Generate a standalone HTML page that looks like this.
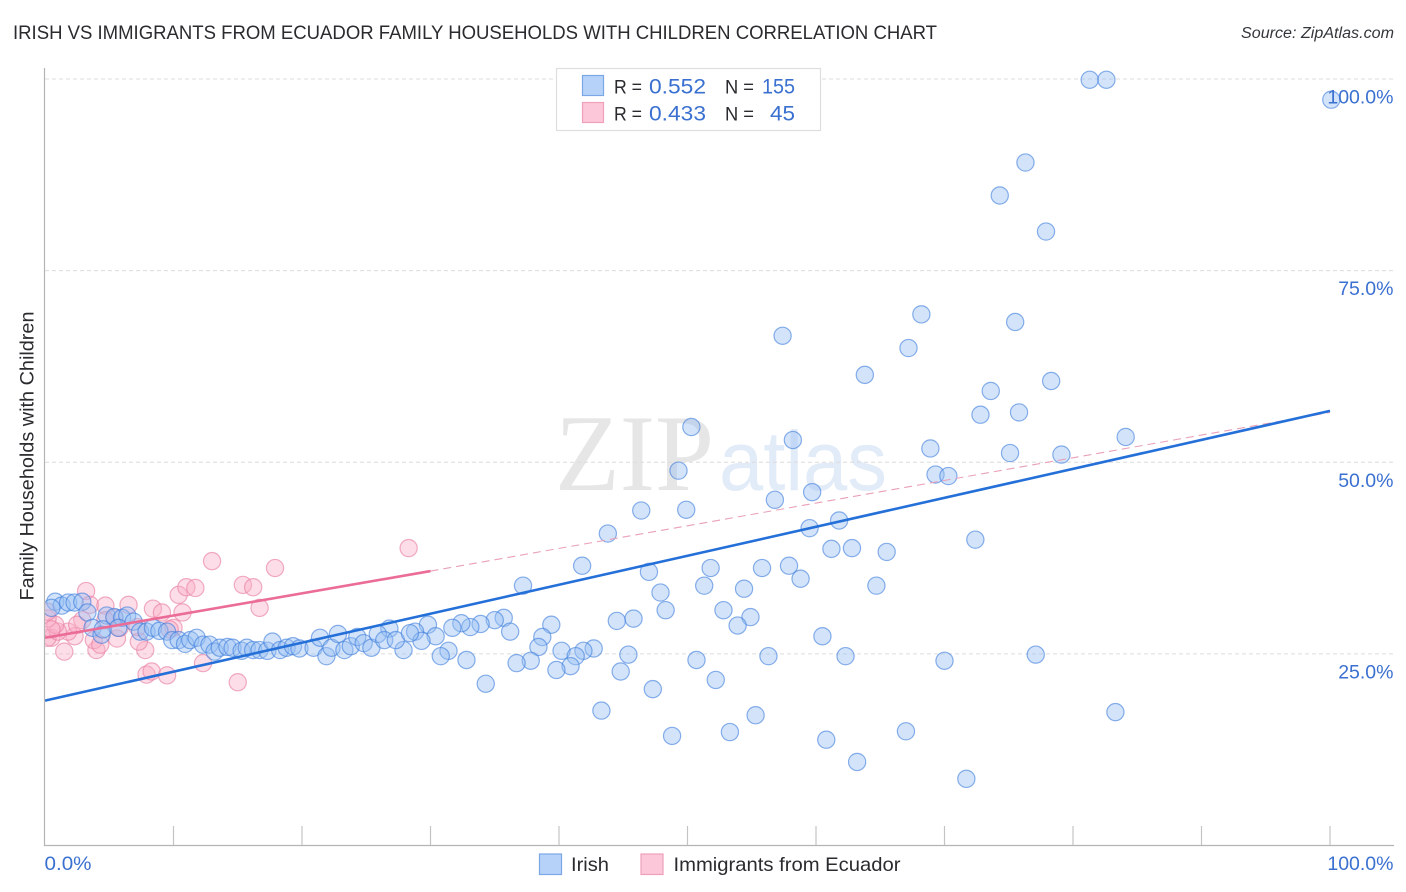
<!DOCTYPE html>
<html>
<head>
<meta charset="utf-8">
<style>
html,body{margin:0;padding:0;background:#fff;width:1406px;height:892px;overflow:hidden}
svg{display:block;font-family:"Liberation Sans",sans-serif}
#pink-points,#blue-points,#trends{filter:blur(0.35px)}
</style>
</head>
<body>
<svg id="chart" width="1406" height="892" viewBox="0 0 1406 892" xmlns="http://www.w3.org/2000/svg">
<defs><clipPath id="plot-clip"><rect x="45" y="60" width="1361" height="790"/></clipPath></defs>
<text x="13" y="39" font-size="19.5" fill="#2b2b2f" textLength="924" lengthAdjust="spacingAndGlyphs">IRISH VS IMMIGRANTS FROM ECUADOR FAMILY HOUSEHOLDS WITH CHILDREN CORRELATION CHART</text>
<text x="1394" y="38" font-size="15.5" font-style="italic" fill="#33363b" text-anchor="end" textLength="153" lengthAdjust="spacingAndGlyphs">Source: ZipAtlas.com</text>
<g id="watermark">
<text x="555" y="490" font-family="'Liberation Serif',serif" font-size="109" fill="#e6e6e6" textLength="159" lengthAdjust="spacingAndGlyphs">ZIP</text>
<text x="719" y="490" font-size="84" fill="#e2ebf8" textLength="168" lengthAdjust="spacingAndGlyphs">atlas</text>
</g>
<g id="grid"></g>
<g id="pink-points" clip-path="url(#plot-clip)"></g>
<g id="blue-points" clip-path="url(#plot-clip)"></g>
<g id="trends"></g>
<g id="axes"></g>
<text transform="translate(33.5,456) rotate(-90)" font-size="19.5" fill="#2b2b2f" text-anchor="middle" textLength="289" lengthAdjust="spacingAndGlyphs">Family Households with Children</text>
<g id="stats-legend">
<rect x="556.5" y="68.5" width="264" height="62" fill="#fff" stroke="#dedede" stroke-width="1.2"/>
<rect x="582.5" y="75.5" width="21" height="20" fill="#b7d2f8" stroke="#7aa8e6" stroke-width="1.2"/>
<rect x="582.5" y="102.5" width="21" height="20" fill="#fcc7d8" stroke="#f0a0bb" stroke-width="1.2"/>
<text x="614" y="93.5" font-size="19.5" fill="#2b2b2f" textLength="28" lengthAdjust="spacingAndGlyphs">R =</text>
<text x="649" y="93.5" font-size="21" fill="#3a70d0" textLength="57" lengthAdjust="spacingAndGlyphs">0.552</text>
<text x="725" y="93.5" font-size="19.5" fill="#2b2b2f" textLength="29" lengthAdjust="spacingAndGlyphs">N =</text>
<text x="795" y="93.5" font-size="21" fill="#3a70d0" text-anchor="end" textLength="33" lengthAdjust="spacingAndGlyphs">155</text>
<text x="614" y="120.5" font-size="19.5" fill="#2b2b2f" textLength="28" lengthAdjust="spacingAndGlyphs">R =</text>
<text x="649" y="120.5" font-size="21" fill="#3a70d0" textLength="57" lengthAdjust="spacingAndGlyphs">0.433</text>
<text x="725" y="120.5" font-size="19.5" fill="#2b2b2f" textLength="29" lengthAdjust="spacingAndGlyphs">N =</text>
<text x="795" y="120.5" font-size="21" fill="#3a70d0" text-anchor="end" textLength="25" lengthAdjust="spacingAndGlyphs">45</text>
</g>
<g id="bottom-legend">
<rect x="539.5" y="854" width="22" height="20.5" fill="#b7d2f8" stroke="#7aa8e6" stroke-width="1.2"/>
<text x="571" y="871" font-size="19.5" fill="#2b2b2f" textLength="38" lengthAdjust="spacingAndGlyphs">Irish</text>
<rect x="641" y="854" width="22" height="20.5" fill="#fcc7d8" stroke="#f0a0bb" stroke-width="1.2"/>
<text x="673.5" y="871" font-size="19.5" fill="#2b2b2f" textLength="227" lengthAdjust="spacingAndGlyphs">Immigrants from Ecuador</text>
</g>
</svg>
<script>
const irishX = [81.3,82.6,100.1,76.3,74.3,77.9,68.2,75.5,57.4,67.2,63.8,78.3,73.6,72.8,75.8,84.1,50.3,58.2,68.9,75.1,79.1,49.3,69.3,70.3,56.8,59.7,46.4,49.9,59.5,61.8,43.8,72.4,61.2,62.8,65.5,41.8,47.0,51.8,55.8,57.9,58.8,37.2,51.3,54.4,64.7,47.9,48.3,52.8,54.9,44.5,45.8,39.4,53.9,35.7,35.0,33.9,33.1,32.4,31.7,29.8,26.8,60.5,38.7,36.2,30.4,28.8,77.1,70.0,62.3,56.3,50.7,45.4,42.7,41.9,40.2,38.4,31.4,30.8,32.8,27.9,29.3,41.3,40.9,39.8,37.8,36.7,44.8,52.2,47.3,34.3,83.3,43.3,55.3,67.0,53.3,48.8,60.8,63.2,71.7,0.8,1.3,1.8,2.3,2.9,0.5,3.3,3.7,4.4,4.8,5.4,6.0,6.4,6.9,7.4,7.9,8.4,8.9,9.5,9.9,10.4,10.9,11.3,11.8,12.3,12.8,13.2,13.6,14.2,14.6,15.3,15.7,16.2,16.7,17.3,17.7,18.3,18.8,19.3,19.8,20.9,21.4,21.9,22.3,22.8,23.3,23.8,24.3,24.8,25.4,25.9,26.4,27.3,28.4,4.5,5.7];
const irishY = [99.9,99.9,97.3,89.1,84.8,80.1,69.3,68.3,66.5,64.9,61.4,60.6,59.3,56.2,56.5,53.3,54.6,52.9,51.8,51.2,51.0,48.9,48.4,48.2,45.1,46.1,43.7,43.8,41.4,42.4,40.7,39.9,38.7,38.8,38.3,36.5,35.7,36.2,36.2,36.5,34.8,33.9,33.9,33.5,33.9,33.0,30.7,30.7,29.8,29.3,29.6,28.8,28.7,29.7,29.4,28.9,28.5,29.0,28.4,28.8,28.3,27.3,27.2,27.9,27.3,27.9,24.9,24.1,24.7,24.7,24.2,24.9,25.7,25.4,25.4,25.9,25.4,24.7,24.2,25.5,26.7,24.7,23.4,22.9,24.1,23.8,22.7,21.6,20.4,21.1,17.4,17.6,17.0,14.9,14.8,14.3,13.8,10.9,8.7,31.8,31.3,31.7,31.7,31.8,31.0,30.4,28.4,27.5,30.0,29.8,29.7,30.0,29.2,27.9,27.9,28.4,28.0,27.9,26.8,26.8,26.3,26.8,27.1,26.2,26.2,25.3,25.8,25.9,25.8,25.4,25.8,25.5,25.5,25.4,26.6,25.5,25.8,26.0,25.7,25.8,27.1,24.7,25.8,27.6,25.5,26.0,27.2,26.4,25.8,27.6,26.8,26.8,27.7,28.2,28.4];
const ecuadorX = [3.2,3.5,4.7,6.5,8.4,9.1,10.7,10.4,11.0,11.7,15.4,16.2,16.7,17.9,13.0,28.3,1.5,4.0,7.8,7.3,5.6,3.8,4.3,0.5,0.2,2.3,1.8,1.0,0.8,0.2,0.5,2.9,2.5,10.0,9.7,5.4,5.8,7.2,12.3,7.9,8.3,9.5,15.0,4.7,0.2];
const ecuadorY = [33.2,31.4,31.3,31.4,30.9,30.4,30.4,32.7,33.7,33.6,34.0,33.7,31.0,36.2,37.1,38.8,25.3,25.5,25.5,26.6,27.0,26.8,26.2,27.1,27.1,27.3,27.9,27.9,28.8,29.6,28.2,29.4,28.8,28.4,28.2,29.7,28.4,28.5,23.8,22.3,22.7,22.2,21.3,29.4,30.5];
const yTicks = [100, 75, 50, 25];
const yTickLabels = ["100.0%", "75.0%", "50.0%", "25.0%"];
const xTicks = [0, 10, 20, 30, 40, 50, 60, 70, 80, 90, 100];
const xEndLabels = ["0.0%", "100.0%"];
const irishTrendX = [0, 100];
const irishTrendY = [18.9, 56.7];
const ecuadorSolidX = [0, 30];
const ecuadorSolidY = [27.1, 35.8];
const ecuadorDashX = [30, 100];
const ecuadorDashY = [35.8, 56.5];

const NS = 'http://www.w3.org/2000/svg';
function xScale(v) { return 45 + v * 12.85; }
function yScale(v) { return 845.5 - v * 7.665; }
function make(tag, parent, props) {
  const el = document.createElementNS(NS, tag);
  for (const k in props) el.setAttribute(k, props[k]);
  document.getElementById(parent).appendChild(el);
  return el;
}

yTicks.forEach(function (t, i) {
  const line = make('line', 'grid', {x1: 45, x2: 1394, y1: yScale(t), y2: yScale(t), stroke: '#dcdcdc', 'stroke-width': 1, 'stroke-dasharray': '4 3'});
  
  
});

ecuadorX.forEach(function (v, i) {
  const c = make('circle', 'pink-points', {cx: xScale(v), cy: yScale(ecuadorY[i]), r: 8.6, fill: 'rgba(250,175,198,0.42)', stroke: 'rgba(232,130,165,0.65)', 'stroke-width': 1.2});
  
  
});
irishX.forEach(function (v, i) {
  const c = make('circle', 'blue-points', {cx: xScale(v), cy: yScale(irishY[i]), r: 8.6, fill: 'rgba(150,190,242,0.42)', stroke: 'rgba(62,125,220,0.6)', 'stroke-width': 1.2});
  
  
});

const dashLine = make('line', 'trends', {x1: xScale(ecuadorDashX[0]), y1: yScale(ecuadorDashY[0]), x2: xScale(ecuadorDashX[1]), y2: yScale(ecuadorDashY[1]), stroke: '#e9a0b8', 'stroke-width': 1.1, 'stroke-dasharray': '8 5'});


const solidLine = make('line', 'trends', {x1: xScale(ecuadorSolidX[0]), y1: yScale(ecuadorSolidY[0]), x2: xScale(ecuadorSolidX[1]), y2: yScale(ecuadorSolidY[1]), stroke: '#ea6c97', 'stroke-width': 2.6});


const blueLine = make('line', 'trends', {x1: xScale(irishTrendX[0]), y1: yScale(irishTrendY[0]), x2: xScale(irishTrendX[1]), y2: yScale(irishTrendY[1]), stroke: '#2470d8', 'stroke-width': 2.6});



const yAxis = make('line', 'axes', {x1: 44.5, x2: 44.5, y1: 68, y2: 846, stroke: '#b4b4b4', 'stroke-width': 1.2});


const xAxis = make('line', 'axes', {x1: 44, x2: 1394, y1: 845.5, y2: 845.5, stroke: '#b4b4b4', 'stroke-width': 1.2});



xTicks.forEach(function (t) {
  if (t === 0) return;
  const tick = make('line', 'axes', {x1: xScale(t), x2: xScale(t), y1: 826, y2: 845, stroke: '#c4c4c4', 'stroke-width': 1.2});
  
  
});

yTicks.forEach(function (t, i) {
  const label = make('text', 'axes', {x: 1393.5, y: yScale(t) + 24.5, 'font-size': 19.5, fill: '#3a70d0', 'text-anchor': 'end'});
  
  
  label.textContent = yTickLabels[i];
});

const xStart = make('text', 'axes', {x: 44.5, y: 870, 'font-size': 19.5, fill: '#3a70d0', textLength: 47, lengthAdjust: 'spacingAndGlyphs'});


xStart.textContent = xEndLabels[0];
const xEnd = make('text', 'axes', {x: 1393.5, y: 870, 'font-size': 19.5, fill: '#3a70d0', 'text-anchor': 'end'});


xEnd.textContent = xEndLabels[1];
</script>
</body>
</html>
